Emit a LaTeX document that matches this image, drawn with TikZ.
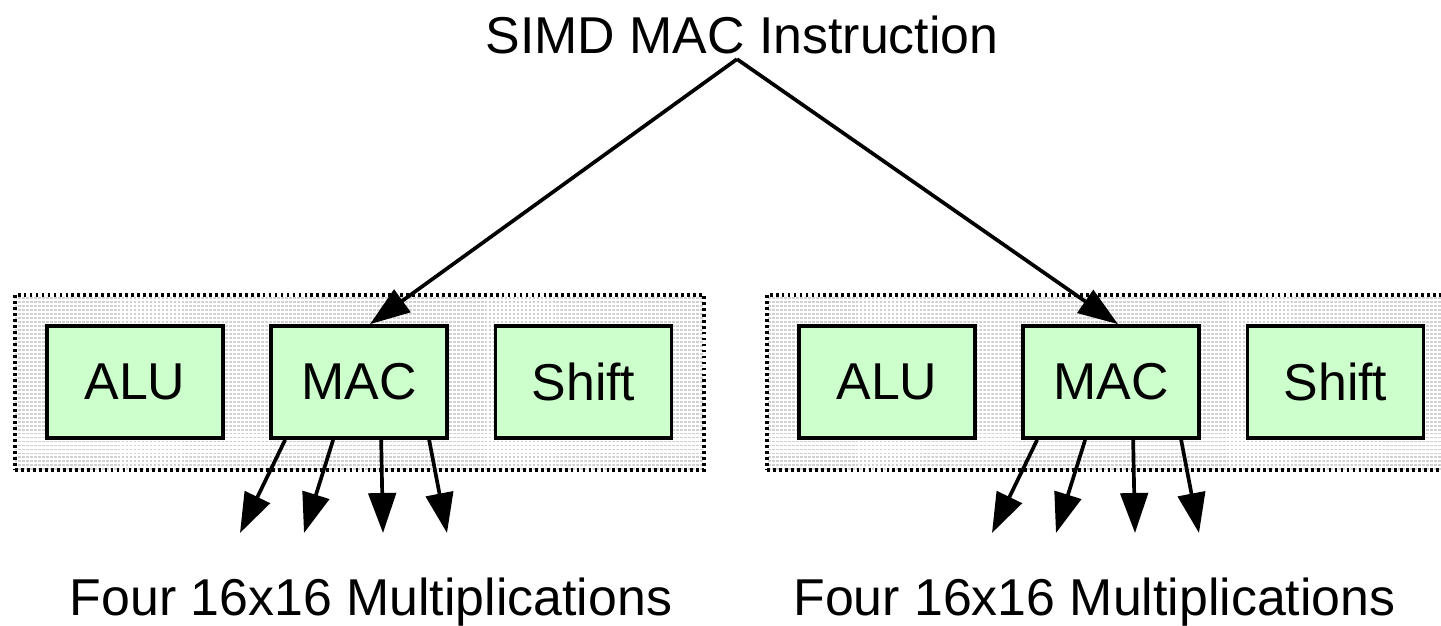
\documentclass[tikz,border=0pt]{standalone}
\usepackage{fontspec}
\setmainfont{Liberation Sans}
\usepackage{tikz}
\usetikzlibrary{arrows.meta,patterns.meta,calc}

\begin{document}
\begin{tikzpicture}[scale=0.2]
\tikzstyle{every node}+=[font=\fontsize{29.5}{35}\selectfont]
\tikzstyle{cluster}=[draw=black, line width=1.8pt, dash pattern=on 1.6pt off 1.8pt,
  minimum width=13.78cm, minimum height=3.5cm, inner sep=0pt,
  pattern={Lines[angle=0,distance=2.27pt,line width=1.1pt]}, pattern color=black!18]
\tikzstyle{unitbox}=[draw=black, line width=2.1pt, fill=green!20,
  minimum width=3.52cm, minimum height=2.24cm, inner sep=0pt]
\tikzstyle{conn}=[line width=2.1pt, -{Triangle[length=0.8cm,width=0.55cm]}]
\useasboundingbox (0,0) rectangle (144.1,-62.5);
\clip (0,0) rectangle (144.1,-62.5);
\fill [white] (0,0) rectangle (144.1,-62.5);
\node [cluster] (leftgrp) at (35.95,-38.25) {};
\node [cluster] (rightgrp) at (111.15,-38.25) {};
\node [unitbox] (aluL) at (13.5,-38.2) {ALU};
\node [unitbox] (macL) at (35.9,-38.2) {MAC};
\node [unitbox] (shiftL) at (58.35,-38.2) {Shift};
\node [unitbox] (aluR) at (88.7,-38.2) {ALU};
\node [unitbox] (macR) at (111.1,-38.2) {MAC};
\node [unitbox] (shiftR) at (133.55,-38.2) {Shift};
\node [anchor=base, inner sep=3pt] (title) at (74.2,-5.3) {SIMD MAC Instruction};
\node [anchor=base] (multL) at (37.1,-61.5) {Four 16x16 Multiplications};
\node [anchor=base] (multR) at (109.45,-61.5) {Four 16x16 Multiplications};
\draw [conn] ($(title.south)+(-0.5,0)$) -- ($(macL.north)+(1.1,0)$);
\draw [conn] ($(title.south)+(-0.5,0)$) -- ($(macR.north)+(0.7,0)$);
\coordinate (tL1) at (24.0,-53.3);
\coordinate (tL2) at (30.4,-53.3);
\coordinate (tL3) at (38.3,-53.3);
\coordinate (tL4) at (44.7,-53.3);
\coordinate (tR1) at (99.2,-53.3);
\coordinate (tR2) at (105.6,-53.3);
\coordinate (tR3) at (113.5,-53.3);
\coordinate (tR4) at (119.9,-53.3);
\draw [conn] ($(macL.south west)+(1.6,0)$) -- (tL1);
\draw [conn] ($(macL.south west)+(6.4,0)$) -- (tL2);
\draw [conn] ($(macL.south west)+(11.2,0)$) -- (tL3);
\draw [conn] ($(macL.south west)+(16.0,0)$) -- (tL4);
\draw [conn] ($(macR.south west)+(1.6,0)$) -- (tR1);
\draw [conn] ($(macR.south west)+(6.4,0)$) -- (tR2);
\draw [conn] ($(macR.south west)+(11.2,0)$) -- (tR3);
\draw [conn] ($(macR.south west)+(16.0,0)$) -- (tR4);
\end{tikzpicture}
\end{document}
